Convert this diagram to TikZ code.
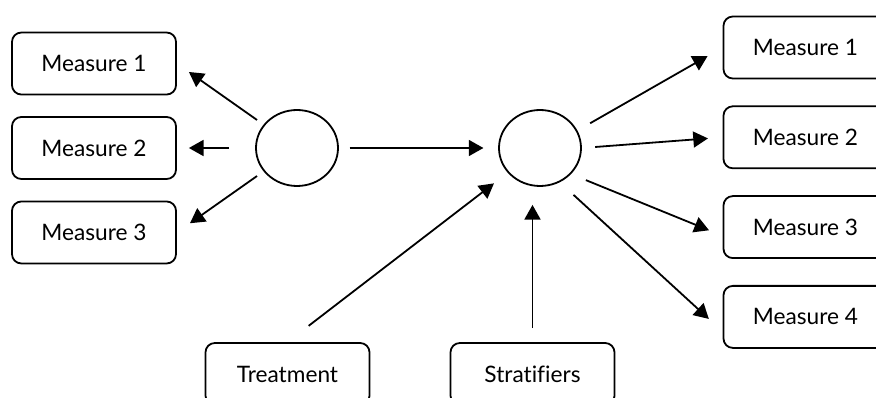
\documentclass[tikz,border=0pt]{standalone}
\usepackage{fontspec}
\setmainfont{Lato}[Ligatures=CommonOff]
\usetikzlibrary{positioning,arrows.meta,shapes}

\begin{document}
\begin{tikzpicture}[ x = 0.75pt, y = 0.75pt, > = {Triangle[length = 11pt, width = 12pt]}, line width = 1.35pt,
box/.style={ rectangle, draw, rounded corners = 7pt, minimum width = 123pt, minimum height = 46.5pt, font = \fontsize{17}{20}\selectfont },
latent/.style={ ellipse, draw, minimum width = 61.5pt, minimum height = 57pt, inner sep = 0pt }
]
\useasboundingbox (0,0) rectangle (876,397);
\clip (0,0) rectangle (876,397);

%the two latent variables
\node (L) at (297,249) [latent] {};
\node (R) at (540,249) [latent] {};

%measures on the left
\node (lm2) at (94,249) [box] {Measure 2};
\node (lm1) [box, above = 15.5pt of lm2] {Measure 1};
\node (lm3) [box, below = 15.5pt of lm2] {Measure 3};

%measures on the right
\node (rm1) at (805.5,349.5) [box] {Measure 1};
\node (rm2) [box, below = 19.5pt of rm1] {Measure 2};
\node (rm3) [box, below = 19.5pt of rm2] {Measure 3};
\node (rm4) [box, below = 19.5pt of rm3] {Measure 4};

%inputs at the bottom
\node (treat) at (287.5,23) [box] {Treatment};
\node (strat) at (532.5,23) [box] {Stratifiers};

%arrows
\draw [->, shorten <= 6pt, shorten >= 11pt] (L.145) -- (lm1.east);
\draw [->, shorten <= 19.5pt, shorten >= 9pt] (L.west) -- (lm2.east);
\draw [->, shorten <= 6pt, shorten >= 12pt] (L.215) -- (lm3.east);
\draw [->, shorten <= 8pt, shorten >= 11pt] (L.east) -- (R.west);

\draw [->, shorten <= 11pt, shorten >= 13pt] (R.25) -- (rm1.west);
\draw [->, shorten <= 10pt, shorten >= 11pt] (R.east) -- (rm2.west);
\draw [->, shorten <= 12pt, shorten >= 11pt] (R.-40) -- (rm3.186);
\draw [->, shorten <= 14pt, shorten >= 14pt] (R.-60) -- (rm4.190);

\draw [->, shorten <= 20pt, shorten >= 13pt] (treat.north) -- (R);
\draw [->, shorten <= 10.5pt, shorten >= 13.5pt] (strat.north) -- (strat.north |- R.south);
\end{tikzpicture}
\end{document}
